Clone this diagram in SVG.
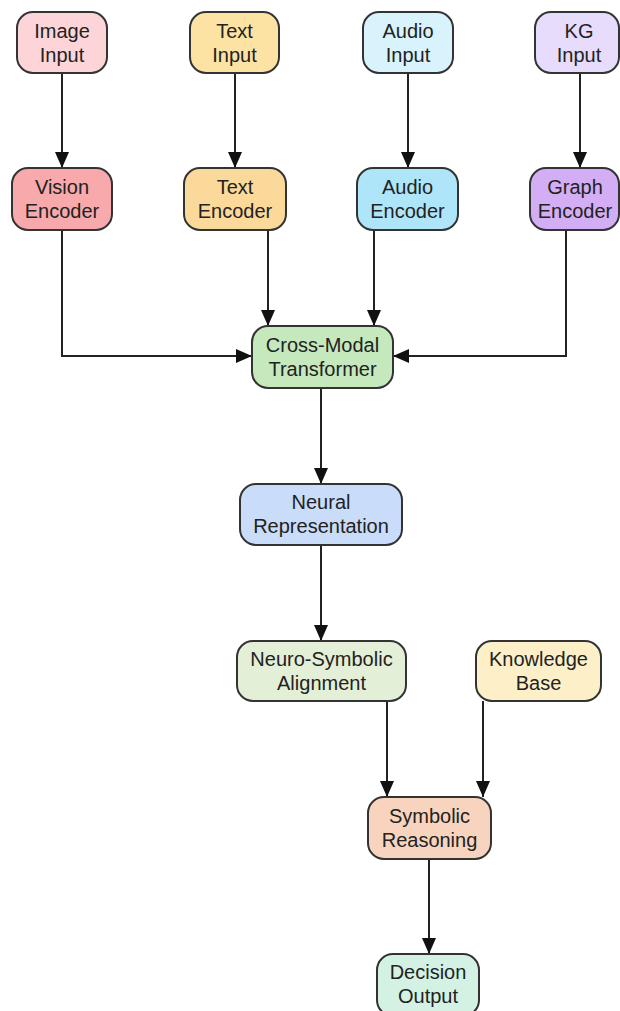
<svg xmlns="http://www.w3.org/2000/svg" width="620" height="1011" viewBox="0 0 620 1011">
<style>
.n rect{stroke:#333;stroke-width:2}
.n text{font-family:"Liberation Sans",Arial,sans-serif;font-size:20px;fill:#222;text-anchor:middle}
.e path{fill:none;stroke:#222;stroke-width:2}
</style>
<defs>
<marker id="ah" markerUnits="userSpaceOnUse" markerWidth="16" markerHeight="16" viewBox="0 0 16 16" refX="16" refY="8" orient="auto">
<path d="M0,1 L16,8 L0,15 Z" fill="#111"/>
</marker>
</defs>
<rect width="620" height="1011" fill="#fff"/>
<g class="e">
<path d="M62,73 V168" marker-end="url(#ah)"/>
<path d="M235,73 V168" marker-end="url(#ah)"/>
<path d="M408,73 V168" marker-end="url(#ah)"/>
<path d="M580,73 V168" marker-end="url(#ah)"/>
<path d="M62,230 V356 H252" marker-end="url(#ah)"/>
<path d="M268,230 V326" marker-end="url(#ah)"/>
<path d="M374,230 V326" marker-end="url(#ah)"/>
<path d="M566,230 V356 H393" marker-end="url(#ah)"/>
<path d="M321,388 V484" marker-end="url(#ah)"/>
<path d="M321,545 V641" marker-end="url(#ah)"/>
<path d="M387,701 V797" marker-end="url(#ah)"/>
<path d="M483,701 V797" marker-end="url(#ah)"/>
<path d="M429,859 V954" marker-end="url(#ah)"/>
</g>
<g id="image-input" class="n"><rect x="17" y="12" width="90" height="61" rx="16" fill="#fdd5d8"/><text x="62" y="38">Image</text><text x="62" y="62">Input</text></g>
<g id="text-input" class="n"><rect x="190" y="12" width="89" height="61" rx="16" fill="#fde3a3"/><text x="234.5" y="38">Text</text><text x="234.5" y="62">Input</text></g>
<g id="audio-input" class="n"><rect x="363" y="12" width="90" height="61" rx="16" fill="#d9f3fd"/><text x="408" y="38">Audio</text><text x="408" y="62">Input</text></g>
<g id="kg-input" class="n"><rect x="535" y="12" width="84" height="61" rx="16" fill="#e7dcfc"/><text x="579" y="38">KG</text><text x="579" y="62">Input</text></g>
<g id="vision-encoder" class="n"><rect x="12" y="168" width="100" height="62" rx="16" fill="#f7a9ab"/><text x="62" y="194">Vision</text><text x="62" y="218">Encoder</text></g>
<g id="text-encoder" class="n"><rect x="184" y="168" width="102" height="62" rx="16" fill="#fbd99a"/><text x="235" y="194">Text</text><text x="235" y="218">Encoder</text></g>
<g id="audio-encoder" class="n"><rect x="357" y="168" width="101" height="62" rx="16" fill="#aee5f9"/><text x="407.5" y="194">Audio</text><text x="407.5" y="218">Encoder</text></g>
<g id="graph-encoder" class="n"><rect x="530" y="168" width="89" height="62" rx="16" fill="#d3aef5"/><text x="575" y="194">Graph</text><text x="575" y="218">Encoder</text></g>
<g id="cross-modal" class="n"><rect x="252" y="326" width="141" height="62" rx="16" fill="#c6e8bd"/><text x="322.5" y="352">Cross-Modal</text><text x="322.5" y="376">Transformer</text></g>
<g id="neural-representation" class="n"><rect x="240" y="484" width="162" height="61" rx="16" fill="#c9dcf9"/><text x="321" y="509">Neural</text><text x="321" y="533">Representation</text></g>
<g id="neuro-symbolic-alignment" class="n"><rect x="237" y="641" width="169" height="60" rx="16" fill="#e3efd6"/><text x="321.5" y="666">Neuro-Symbolic</text><text x="321.5" y="690">Alignment</text></g>
<g id="knowledge-base" class="n"><rect x="476" y="641" width="125" height="60" rx="16" fill="#fdf0c9"/><text x="538.5" y="666">Knowledge</text><text x="538.5" y="690">Base</text></g>
<g id="symbolic-reasoning" class="n"><rect x="368" y="797" width="123" height="62" rx="16" fill="#f8d4be"/><text x="429.5" y="823">Symbolic</text><text x="429.5" y="847">Reasoning</text></g>
<g id="decision-output" class="n"><rect x="377" y="954" width="102" height="62" rx="16" fill="#d4f2e4"/><text x="428" y="979">Decision</text><text x="428" y="1003">Output</text></g>
</svg>
